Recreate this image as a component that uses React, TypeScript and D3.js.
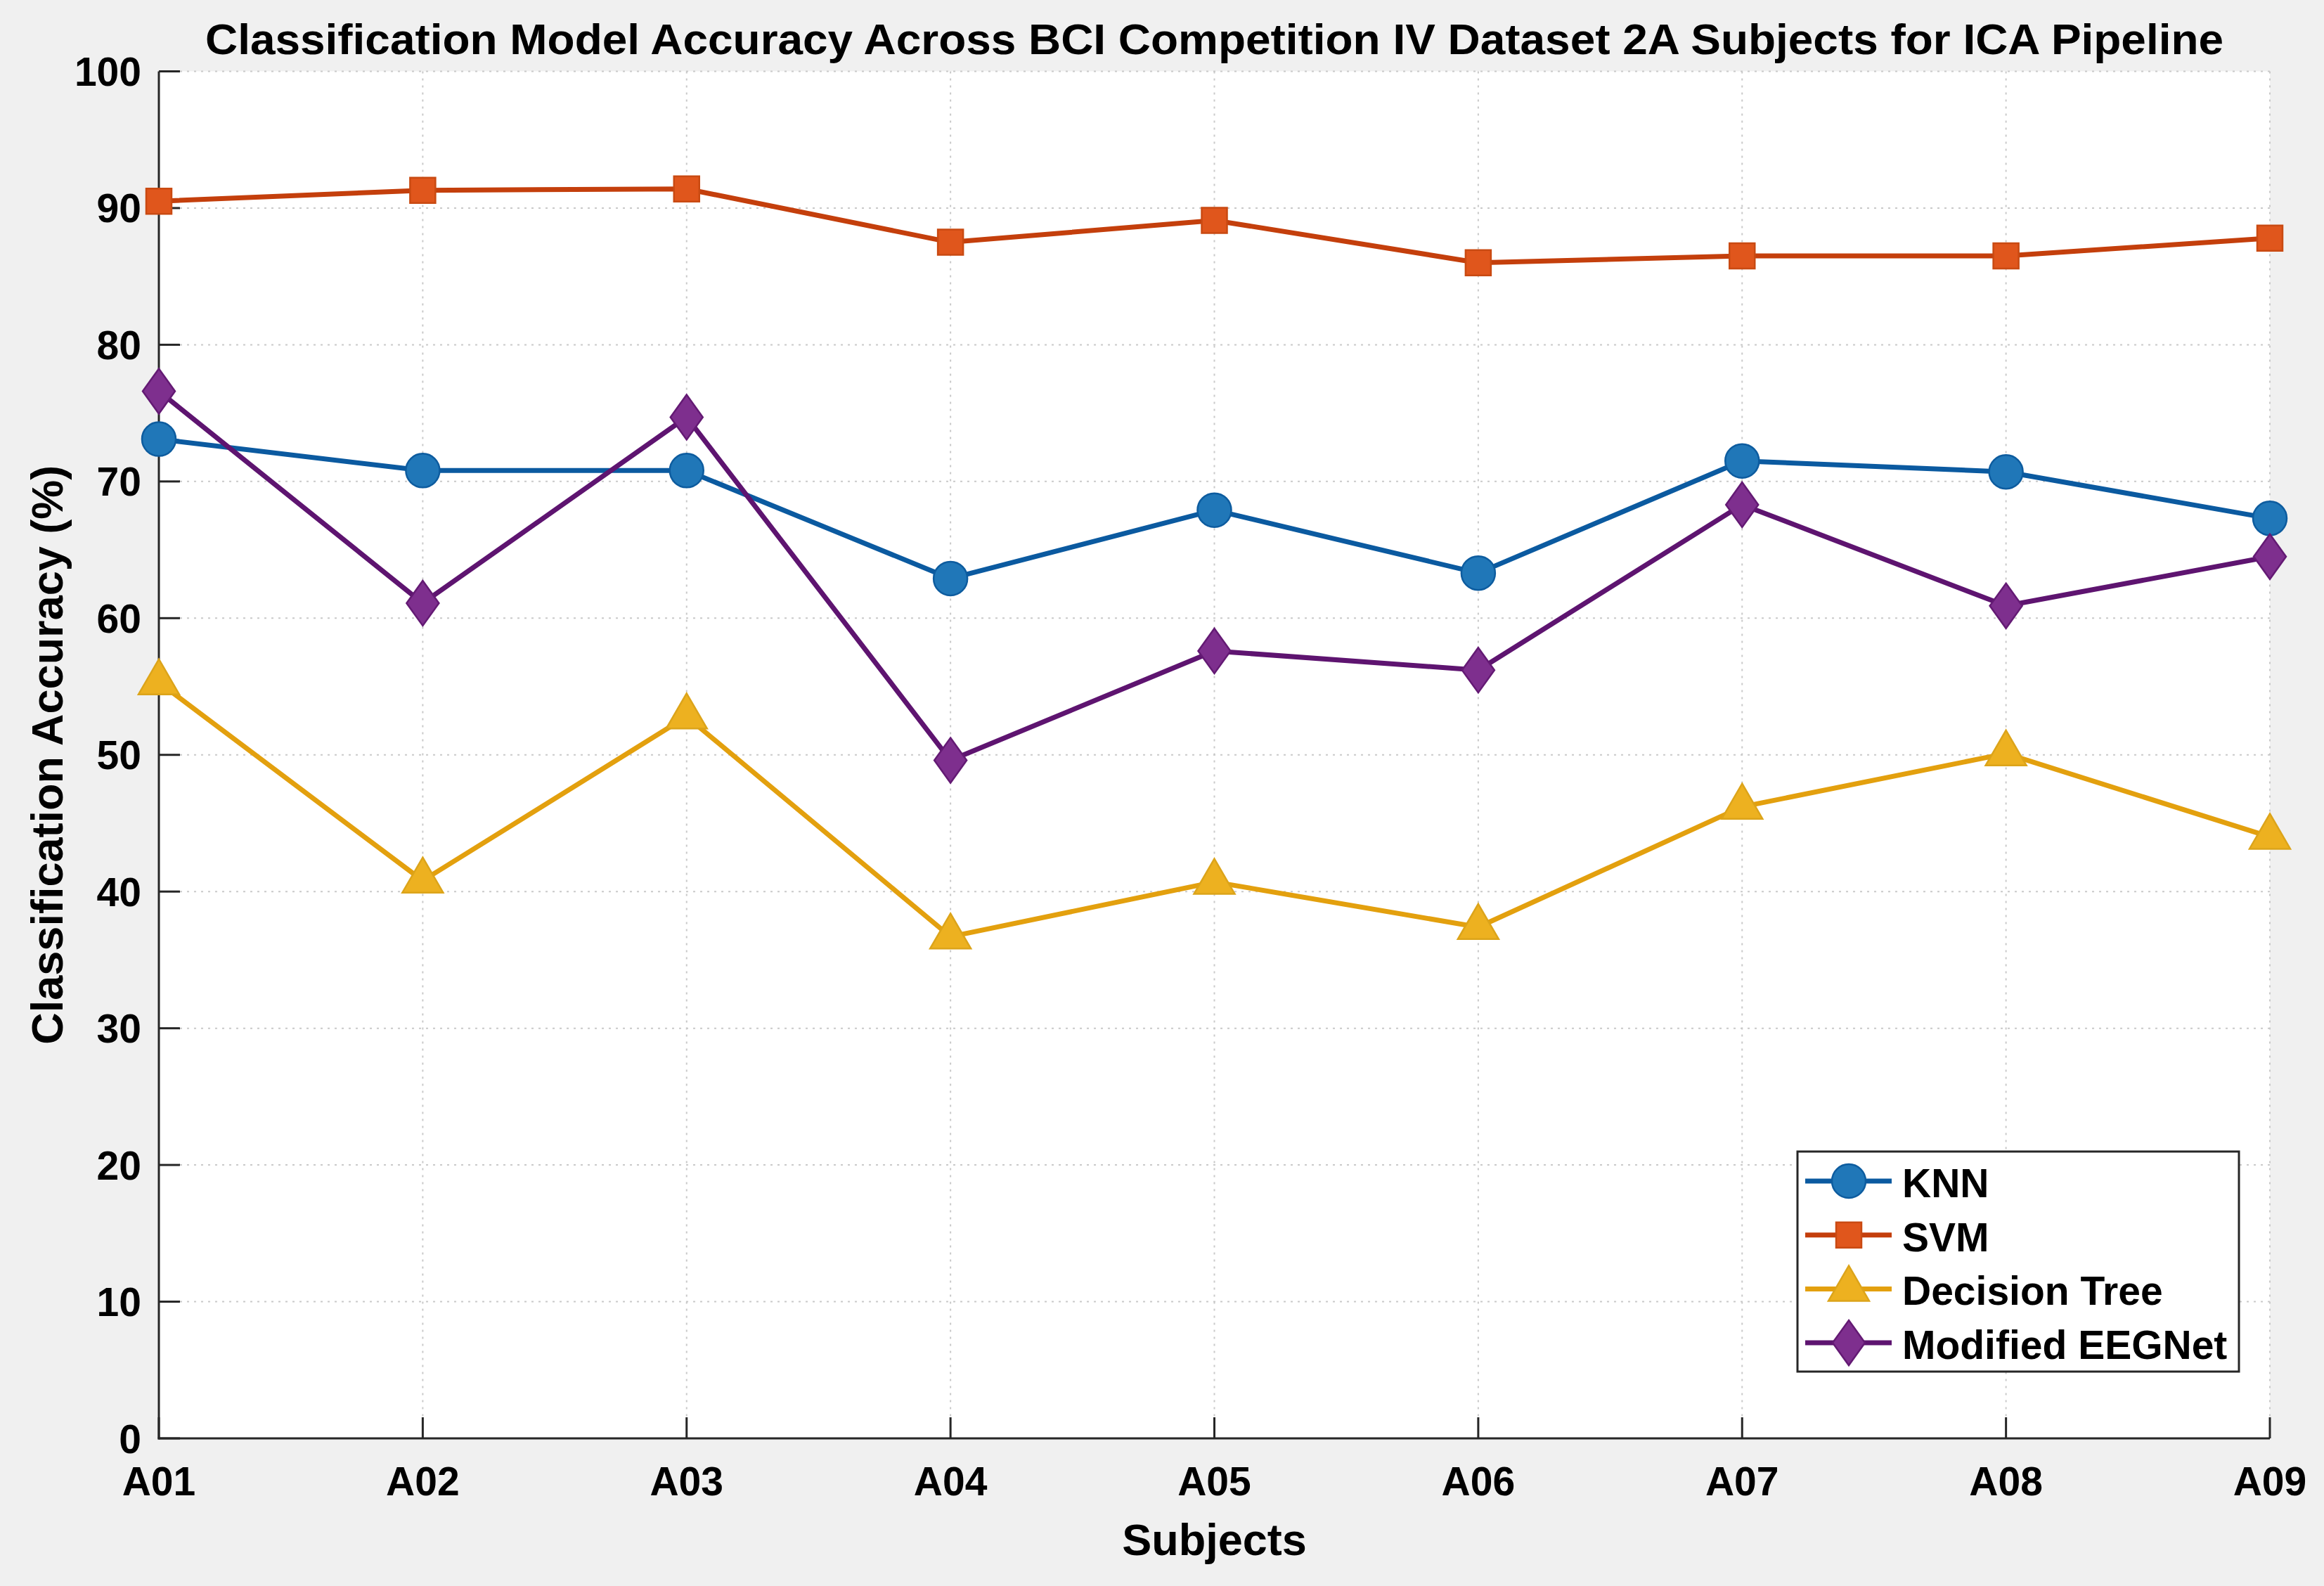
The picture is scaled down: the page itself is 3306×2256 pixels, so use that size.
import React, { useEffect, useRef } from 'react';
import * as d3 from 'd3';

const subjects = ['A01', 'A02', 'A03', 'A04', 'A05', 'A06', 'A07', 'A08', 'A09'];
const knn = [73.1, 70.8, 70.8, 62.9, 67.9, 63.3, 71.5, 70.7, 67.3];
const svm = [90.5, 91.3, 91.4, 87.5, 89.1, 86.0, 86.5, 86.5, 87.8];
const decisionTree = [55.3, 40.8, 52.8, 36.7, 40.7, 37.4, 46.2, 50.1, 44.0];
const eegnet = [76.6, 61.1, 74.7, 49.6, 57.6, 56.2, 68.3, 60.9, 64.5];
const yTicks = [0, 10, 20, 30, 40, 50, 60, 70, 80, 90, 100];

const seriesNames = ['KNN', 'SVM', 'Decision Tree', 'Modified EEGNet'];
const seriesValues = [knn, svm, decisionTree, eegnet];

type Marker = 'circle' | 'square' | 'triangle' | 'diamond';

const styles: { line: string; fill: string; edge: string; marker: Marker }[] = [
  { line: '#0b5aa0', fill: '#2077b8', edge: '#0d5c9f', marker: 'circle' },
  { line: '#c43f0c', fill: '#e0561c', edge: '#c94a12', marker: 'square' },
  { line: '#e3a00e', fill: '#edb120', edge: '#dca41a', marker: 'triangle' },
  { line: '#5e1470', fill: '#7e2f8e', edge: '#641a74', marker: 'diamond' },
];

const W = 3306;
const H = 2256;
const margin = { top: 101.5, right: 77, bottom: 210, left: 226 };
const FONT = '"Liberation Sans", Arial, Helvetica, sans-serif';

// marker outlines centred on the data point
const markerPath = (m: Marker) => {
  switch (m) {
    case 'circle':
      return 'M-24,0a24,24 0 1,0 48,0a24,24 0 1,0 -48,0Z';
    case 'square':
      return 'M-18,-18H18V18H-18Z';
    case 'triangle':
      return 'M0,-33L29,17L-29,17Z';
    default:
      return 'M0,-32L23,0L0,32L-23,0Z';
  }
};

const App: React.FC = () => {
  const svgRef = useRef<SVGSVGElement>(null);

  useEffect(() => {
    if (!svgRef.current) return;
    const svg = d3.select(svgRef.current);
    svg.selectAll('*').remove();

    const x = d3.scalePoint<string>().domain(subjects).range([margin.left, W - margin.right]);
    const y = d3.scaleLinear().domain([0, 100]).range([H - margin.bottom, margin.top]);
    const x0 = margin.left;
    const x1 = W - margin.right;
    const y0 = H - margin.bottom;
    const y1 = margin.top;

    // figure + axes background
    svg.append('rect').attr('width', W).attr('height', H).attr('fill', '#f0f0f0');
    svg.append('rect')
      .attr('x', x0).attr('y', y1)
      .attr('width', x1 - x0).attr('height', y0 - y1)
      .attr('fill', '#ffffff');

    // dotted grid
    const grid = svg.append('g')
      .attr('stroke', '#c9c9c9')
      .attr('stroke-width', 2)
      .attr('stroke-dasharray', '3,7');
    grid.selectAll('.hgrid')
      .data(yTicks.filter(t => t > 0))
      .enter().append('line')
      .attr('x1', x0).attr('x2', x1)
      .attr('y1', d => y(d)).attr('y2', d => y(d));
    grid.selectAll('.vgrid')
      .data(subjects.slice(1))
      .enter().append('line')
      .attr('x1', d => x(d)!).attr('x2', d => x(d)!)
      .attr('y1', y1).attr('y2', y0);

    // axes (box off, ticks inward)
    const axes = svg.append('g').attr('stroke', '#262626').attr('stroke-width', 3);
    axes.append('line').attr('x1', x0).attr('x2', x0).attr('y1', y1).attr('y2', y0 + 1.5);
    axes.append('line').attr('x1', x0 - 1.5).attr('x2', x1).attr('y1', y0).attr('y2', y0);
    axes.selectAll('.yt')
      .data(yTicks)
      .enter().append('line')
      .attr('x1', x0).attr('x2', x0 + 30)
      .attr('y1', d => y(d)).attr('y2', d => y(d));
    axes.selectAll('.xt')
      .data(subjects)
      .enter().append('line')
      .attr('x1', d => x(d)!).attr('x2', d => x(d)!)
      .attr('y1', y0).attr('y2', y0 - 30);

    const text = svg.append('g')
      .attr('font-family', FONT)
      .attr('font-weight', 'bold')
      .attr('fill', '#000000');

    text.selectAll('.ytl')
      .data(yTicks)
      .enter().append('text')
      .attr('x', 201)
      .attr('y', d => y(d))
      .attr('dy', '0.36em')
      .attr('text-anchor', 'end')
      .attr('font-size', 57)
      .text(d => String(d));

    text.selectAll('.xtl')
      .data(subjects)
      .enter().append('text')
      .attr('x', d => x(d)!)
      .attr('y', 2127)
      .attr('text-anchor', 'middle')
      .attr('font-size', 57)
      .text(d => d);

    text.append('text')
      .attr('x', (x0 + x1) / 2)
      .attr('y', 2212)
      .attr('text-anchor', 'middle')
      .attr('font-size', 63)
      .text('Subjects');

    text.append('text')
      .attr('transform', `translate(89,${(y0 + y1) / 2}) rotate(-90)`)
      .attr('text-anchor', 'middle')
      .attr('font-size', 63)
      .text('Classification Accuracy (%)');

    text.append('text')
      .attr('x', (x0 + x1) / 2)
      .attr('y', 77)
      .attr('text-anchor', 'middle')
      .attr('font-size', 61)
      .attr('textLength', 2871)
      .attr('lengthAdjust', 'spacingAndGlyphs')
      .text('Classification Model Accuracy Across BCI Competition IV Dataset 2A Subjects for ICA Pipeline');

    // series
    const line = d3.line<number>()
      .x((_, i) => x(subjects[i])!)
      .y(d => y(d));

    seriesValues.forEach((vals, k) => {
      const st = styles[k];
      const g = svg.append('g');
      g.append('path')
        .attr('d', line(vals))
        .attr('fill', 'none')
        .attr('stroke', st.line)
        .attr('stroke-width', 7)
        .attr('stroke-linejoin', 'round');
      g.selectAll('.m')
        .data(vals)
        .enter().append('path')
        .attr('transform', (d, i) => `translate(${x(subjects[i])},${y(d)})`)
        .attr('d', markerPath(st.marker))
        .attr('fill', st.fill)
        .attr('stroke', st.edge)
        .attr('stroke-width', 2.5);
    });

    // legend
    const lg = svg.append('g');
    lg.append('rect')
      .attr('x', 2557).attr('y', 1638)
      .attr('width', 628).attr('height', 313)
      .attr('fill', '#ffffff')
      .attr('stroke', '#262626')
      .attr('stroke-width', 3);
    const rowY = (i: number) => 1680 + i * 76.7;
    seriesNames.forEach((name, i) => {
      const st = styles[i];
      const ry = rowY(i);
      lg.append('line')
        .attr('x1', 2568).attr('x2', 2691)
        .attr('y1', ry).attr('y2', ry)
        .attr('stroke', st.line)
        .attr('stroke-width', 7);
      lg.append('path')
        .attr('transform', `translate(2630,${ry})`)
        .attr('d', markerPath(st.marker))
        .attr('fill', st.fill)
        .attr('stroke', st.edge)
        .attr('stroke-width', 2.5);
      lg.append('text')
        .attr('x', 2706)
        .attr('y', ry + 23)
        .attr('font-family', FONT)
        .attr('font-weight', 'bold')
        .attr('font-size', 57)
        .attr('fill', '#000000')
        .text(name);
    });
  }, []);

  return (
    <div style={{ position: 'absolute', left: 0, top: 0, width: W, height: H }}>
      <svg ref={svgRef} width={W} height={H} style={{ display: 'block' }}></svg>
    </div>
  );
};

export default App;
